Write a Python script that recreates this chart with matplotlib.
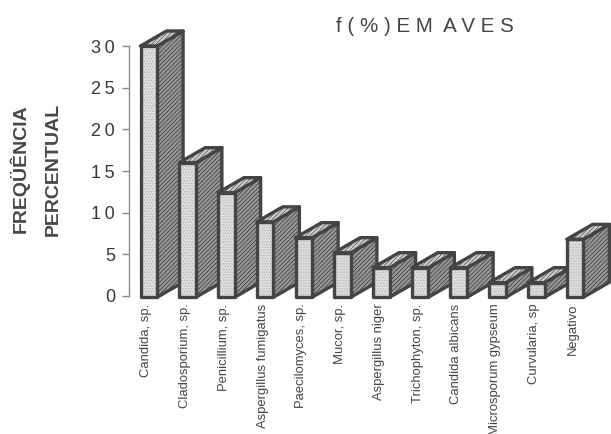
import matplotlib
matplotlib.use("Agg")
import matplotlib.pyplot as plt
from matplotlib.patches import Polygon

plt.rcParams['font.family'] = ['Liberation Sans', 'DejaVu Sans']
plt.rcParams['hatch.linewidth'] = 0.6

categories = ["Candida, sp.", "Cladosporium, sp.", "Penicillium, sp.",
              "Aspergillus fumigatus", "Paecilomyces, sp.", "Mucor, sp.",
              "Aspergillus niger", "Trichophyton, sp.", "Candida albicans",
              "Microsporum gypseum", "Curvularia, sp", "Negativo"]
values = [30, 16, 12.4, 8.9, 7, 5.2, 3.4, 3.4, 3.4, 1.6, 1.6, 6.8]
y_ticks = [0, 5, 10, 15, 20, 25, 30]

W, H = 611, 434
fig = plt.figure(figsize=(W / 100, H / 100), dpi=100)
left, right, top, bottom = 129, 611, 46, 296
ax = fig.add_axes([left / W, 1 - bottom / H, (right - left) / W, (bottom - top) / H])

# x unit is one category slot; position 0 is the left edge of the first bar
slot = 38.75
ax.set_xlim((left - 140.5) / slot, (right - 140.5) / slot)
ax.set_ylim(0, 30)

bar_w = 0.43
depth_x = 0.67
depth_y = 1.8
edge = "#444444"
line_w = 2.4

for i, v in enumerate(values):
    x0, x1 = i, i + bar_w
    y0 = -0.15
    z = 3 + i * 0.01
    side = [(x1, y0), (x1 + depth_x, y0 + depth_y), (x1 + depth_x, v + depth_y), (x1, v)]
    roof = [(x0, v), (x1, v), (x1 + depth_x, v + depth_y), (x0 + depth_x, v + depth_y)]
    front = [(x0, y0), (x1, y0), (x1, v), (x0, v)]
    faces = [(side, "#9a9a9a", "#404040", "////////"),
             (roof, "#d2d2d2", "#5e5e5e", "////////"),
             (front, "#dedede", "#b5b5b5", "......")]
    for pts, fill, hatch_col, hatch in faces:
        ax.add_patch(Polygon(pts, closed=True, facecolor=fill, edgecolor=hatch_col,
                             hatch=hatch, lw=0, clip_on=False, zorder=z))
        ax.add_patch(Polygon(pts, closed=True, fill=False, edgecolor=edge, lw=line_w,
                             joinstyle="round", clip_on=False, zorder=z))

for s in ("top", "right", "bottom"):
    ax.spines[s].set_visible(False)
ax.spines["left"].set_color("#8a8a8a")
ax.spines["left"].set_linewidth(1.0)

ax.set_yticks(y_ticks)
ax.set_yticklabels(["\u2009".join(str(t)) for t in y_ticks], fontsize=13, color="#383838")
ax.tick_params(axis="y", length=5, width=1.0, color="#8a8a8a", pad=5)

ax.set_xticks([i + 0.15 for i in range(len(categories))])
ax.set_xticklabels(categories, rotation=90, fontsize=9.4, color="#444444", ha="center", va="top")
ax.tick_params(axis="x", length=0, pad=5.5)

fig.text(425 / W, 1 - 27 / H, "f ( % ) E M  A V E S", fontsize=14.8, color="#444444",
         ha="center", va="center")
fig.text(20 / W, 1 - 169 / H, "FREQÜÊNCIA", rotation=90, fontsize=14, fontweight="bold",
         color="#484848", ha="center", va="center")
fig.text(53 / W, 1 - 169 / H, "PERCENTUAL", rotation=90, fontsize=14, fontweight="bold",
         color="#484848", ha="center", va="center")

fig.savefig("out.png", dpi=100)
